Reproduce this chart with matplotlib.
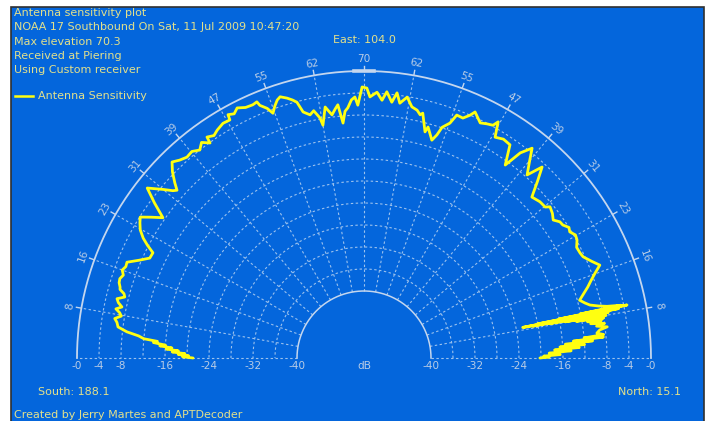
import numpy as np
import matplotlib
matplotlib.use('Agg')
import matplotlib.pyplot as plt
from matplotlib.transforms import offset_copy
from matplotlib.patches import Rectangle

# ---------------- data ----------------
# plot angle (deg, 180 = south horizon, 90 = max elevation, 0 = north horizon)
theta_deg = [180.0, 179.6, 179.3, 178.9, 178.6, 178.2, 177.8, 177.4, 177.0, 176.6,
             176.3, 175.8, 175.4, 175.0, 174.4, 173.7,
             172.8, 171.8, 171.0, 170.2, 169.5, 168.8, 168.1, 167.3, 166.5, 165.7,
             165.0, 164.3, 163.8, 162.9, 162.0, 161.0, 160.0, 159.0, 158.0, 156.5,
             155.0, 153.5, 152.5, 151.5, 150.2, 148.9, 147.8, 146.5, 145.1, 143.5,
             141.9, 140.0, 138.8, 138.1, 137.2, 135.8, 134.4, 133.0, 131.4, 129.8,
             128.3, 127.0, 125.6, 125.4, 124.0, 122.8, 121.0, 119.4, 119.2, 118.0,
             116.9, 115.3, 113.7, 112.7, 112.4, 111.2, 110.4, 109.5, 108.6, 107.8,
             106.5, 105.5, 104.7, 103.9, 102.5, 101.5, 100.4, 100.0, 98.8, 97.5,
             96.6, 95.9, 95.1, 94.4, 93.7, 92.8, 92.0, 91.4, 90.4, 89.4,
             88.7, 87.2, 86.0, 85.1, 83.8, 82.9, 82.0, 80.6, 79.2, 77.9,
             77.0, 76.5, 74.9, 74.5, 72.7, 71.9, 71.3, 69.9, 69.1, 67.6,
             66.4, 65.7, 63.7, 62.3, 61.0, 60.4, 59.3, 57.5, 55.6, 53.8,
             52.7, 51.3, 49.8, 48.3, 47.0, 45.5, 43.8, 41.6, 39.8, 39.1,
             37.5, 36.1, 34.8, 33.8, 32.5, 31.5, 30.2, 29.0, 27.5, 25.9,
             24.8, 23.0, 21.5, 20.2, 18.8, 17.6, 16.3, 15.0, 14.0, 13.2,
             12.5, 12.0, 11.6, 11.5, 11.4, 11.3, 11.2, 11.1, 11.0, 10.9,
             10.8, 10.7, 10.6, 10.5, 10.4, 10.2, 10.0, 9.8, 9.5, 9.2,
             9.0, 8.6, 8.2, 7.8, 7.3, 6.8, 6.1, 5.6, 5.2, 5.0,
             4.6, 4.3, 3.9, 3.5, 3.2, 2.8, 2.4, 2.0, 1.5, 1.0,
             0.6, 0.3, 0.0]
# signal level in dB
db_values = [-21.1, -19.2, -20.3, -18.4, -19.6, -17.3, -18.4, -16.2, -17.2, -15.0,
             -16.0, -13.8, -14.5, -12.0, -11.0, -8.8,
             -7.1, -6.8, -6.3, -7.4, -7.0, -6.2, -7.2, -6.4, -6.0, -7.3,
             -7.0, -6.1, -6.0, -5.6, -5.5, -5.9, -5.4, -5.8, -5.7, -7.6,
             -9.2, -9.3, -7.8, -6.5, -5.3, -4.6, -4.1, -5.8, -7.6, -4.8,
             -2.1, -4.5, -6.0, -6.5, -5.3, -3.6, -2.3, -3.0, -3.5, -3.3,
             -4.0, -3.1, -4.1, -2.9, -3.4, -2.9, -2.4, -2.5, -1.5, -1.9,
             -1.2, -1.8, -1.9, -1.7, -2.5, -3.5, -4.7, -3.6, -2.7, -2.3,
             -2.9, -3.5, -4.1, -6.1, -6.9, -6.3, -7.8, -9.2, -6.0, -7.6,
             -6.6, -5.9, -9.3, -7.2, -6.6, -5.2, -4.7, -6.2, -2.9, -3.1,
             -4.7, -3.8, -5.2, -3.6, -5.4, -3.6, -5.4, -4.1, -5.7, -6.1,
             -6.8, -6.4, -9.6, -8.6, -10.7, -9.5, -7.9, -6.7, -4.9, -5.0,
             -4.0, -3.1, -4.5, -4.1, -3.8, -2.8, -5.5, -5.0, -5.2, -8.7,
             -5.3, -3.3, -5.6, -7.6, -4.7, -7.2, -9.9, -9.4, -9.3, -8.6,
             -9.0, -9.6, -8.8, -8.7, -8.0, -8.3, -7.7, -7.9, -8.6, -8.5,
             -8.3, -7.2, -6.1, -7.4, -8.6, -9.5, -10.6, -11.6, -10.8, -10.0,
             -8.5, -7.0, -4.5, -12.0, -3.4, -16.0, -6.0, -20.0, -5.0, -22.8,
             -8.0, -21.0, -7.0, -18.0, -8.0, -15.0, -7.5, -13.0, -8.0, -11.0,
             -8.5, -10.5, -8.0, -9.5, -7.6, -9.0, -9.6, -8.4, -12.0, -8.5,
             -14.0, -10.5, -15.5, -12.0, -16.5, -13.0, -17.5, -14.5, -18.5, -16.5,
             -19.5, -18.5, -20.2]

# angular (elevation) labels at plot angles 170..10
label_angles = [170, 160, 150, 140, 130, 120, 110, 100, 90, 80, 70, 60, 50, 40, 30, 20, 10]
elev_labels = ['8', '16', '23', '31', '39', '47', '55', '62', '70',
               '62', '55', '47', '39', '31', '23', '16', '8']
# radial (dB) labels
db_ticks = [0, -4, -8, -16, -24, -32, -40]
db_tick_labels = ['-0', '-4', '-8', '-16', '-24', '-32', '-40']
db_grid = [-4, -8, -12, -16, -20, -24, -28, -32, -36]

header_lines = ['Antenna sensitivity plot',
                'NOAA 17 Southbound On Sat, 11 Jul 2009 10:47:20',
                'Max elevation 70.3',
                'Received at Piering',
                'Using Custom receiver']

# ---------------- style ----------------
W, H = 710, 421
BLUE = '#0466dc'
GRID = '#9cc2ee'
RING = '#c4d6ee'
TXT = '#e2e08c'
TICK = '#b8cce6'
LINE = '#ffff10'
FS = 8.0
FS_TICK = 7.6

fig = plt.figure(figsize=(W / 100, H / 100), dpi=100)
fig.patch.set_facecolor('white')
fig.add_artist(Rectangle((11 / W, -0.02), (704 - 11) / W, (421 - 7) / H + 0.02,
                         transform=fig.transFigure, facecolor=BLUE,
                         edgecolor='#303030', lw=1.2, zorder=0))

cx, cy, R, R_in = 364, 358, 287, 67          # target pixel geometry (from top-left)
px_per_db = (R - R_in) / 40.0
r_origin = -40 - R_in / px_per_db

ax = fig.add_axes([(cx - R) / W, (H - cy) / H, 2 * R / W, R / H], projection='polar')
ax.set_thetamin(0)
ax.set_thetamax(180)
ax.set_rlim(-40, 0)
ax.set_rorigin(r_origin)
ax.set_axis_off()

# fit the polar axes so its centre and outer radius land on the target pixels
for _ in range(3):
    fig.canvas.draw()
    c_disp = ax.transData.transform((0.0, r_origin))
    o_disp = ax.transData.transform((0.0, 0.0))
    r_m = o_disp[0] - c_disp[0]
    p = ax.get_position(original=True)
    fx = (c_disp[0] / W - p.x0) / p.width
    fy = (c_disp[1] / H - p.y0) / p.height
    s = R / r_m
    nw, nh = p.width * s, p.height * s
    ax.set_position([cx / W - fx * nw, (H - cy) / H - fy * nh, nw, nh])

th = np.linspace(0, np.pi, 400)
dash = (0, (2.2, 2.2))
for r in db_grid:
    ax.plot(th, np.full_like(th, r), color=GRID, lw=0.8, ls=dash, clip_on=False)
for a in range(0, 181, 10):
    ax.plot([np.deg2rad(a)] * 2, [-40, 0], color=GRID, lw=0.8, ls=dash, clip_on=False)
ax.plot(th, np.zeros_like(th), color=RING, lw=1.3, clip_on=False)
ax.plot(th, np.full_like(th, -40.0), color=RING, lw=1.1, clip_on=False)
for a in label_angles:
    ax.plot([np.deg2rad(a)] * 2, [0, 5 / px_per_db], color=RING, lw=1.0, clip_on=False)
ax.plot(np.deg2rad([88, 92]), [0, 0], color=RING, lw=2.6, clip_on=False)

for a, lab in zip(label_angles, elev_labels):
    ax.text(np.deg2rad(a), 12 / px_per_db, lab, rotation=a - 90, rotation_mode='anchor',
            ha='center', va='center', color=TICK, fontsize=FS_TICK, clip_on=False)

trans = offset_copy(ax.transData, fig=fig, x=0, y=-8, units='dots')
for v, lab in zip(db_ticks, db_tick_labels):
    for a in (np.pi, 0.0):
        ax.text(a, v, lab, transform=trans, ha='center', va='center',
                color=TICK, fontsize=FS_TICK, clip_on=False)
ax.text(0.0, r_origin, 'dB', transform=trans, ha='center', va='center',
        color=TICK, fontsize=FS_TICK, clip_on=False)

ax.plot(np.deg2rad(theta_deg), db_values, color=LINE, lw=2.0, clip_on=False, zorder=5,
        solid_joinstyle='round', solid_capstyle='round')

# ---------------- texts ----------------
for i, t in enumerate(header_lines):
    fig.text(14 / W, 1 - (13 + 14.3 * i) / H, t, ha='left', va='center', color=TXT, fontsize=FS)
fig.add_artist(plt.Line2D([15 / W, 33 / W], [1 - 96 / H] * 2, color=LINE, lw=1.8,
                          transform=fig.transFigure))
fig.text(38 / W, 1 - 96 / H, 'Antenna Sensitivity', ha='left', va='center', color=TXT, fontsize=FS)
fig.text(cx / W, 1 - 40 / H, 'East: 104.0', ha='center', va='center', color=TXT, fontsize=FS)
fig.text(38 / W, 1 - 392 / H, 'South: 188.1', ha='left', va='center', color=TXT, fontsize=FS)
fig.text(681 / W, 1 - 392 / H, 'North: 15.1', ha='right', va='center', color=TXT, fontsize=FS)
fig.text(14 / W, 1 - 415 / H, 'Created by Jerry Martes and APTDecoder', ha='left', va='center',
         color=TXT, fontsize=FS)

fig.savefig('out.png', dpi=100)
